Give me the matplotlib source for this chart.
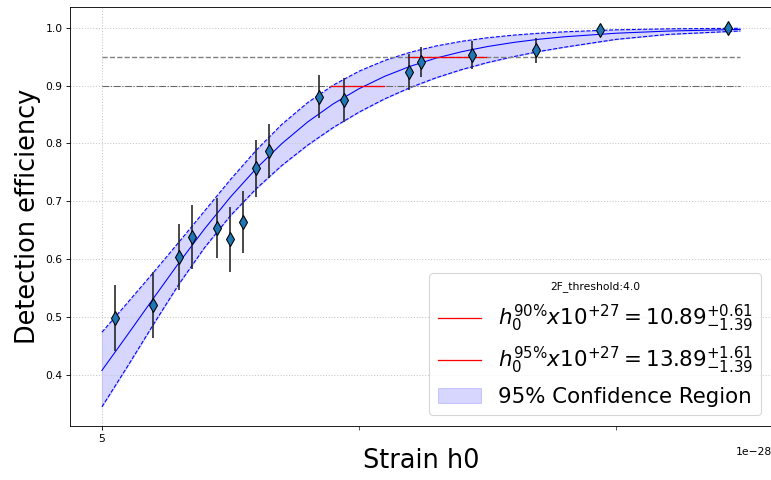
import matplotlib
matplotlib.use("Agg")
import numpy as np
import matplotlib.pyplot as plt
from matplotlib.ticker import FixedLocator, ScalarFormatter

UNIT = 1e-28  # strain values below are given in units of 1e-28

# Injected strain and measured detection efficiency (binomial errors)
h0_injected = [5.253, 5.998, 6.492, 6.745, 7.232, 7.496, 7.737, 7.990, 8.243,
               9.222, 9.714, 10.973, 11.212, 12.204, 13.449, 14.689, 17.173]
efficiency = [0.498, 0.521, 0.604, 0.638, 0.653, 0.634, 0.664, 0.757, 0.787,
              0.881, 0.875, 0.923, 0.940, 0.953, 0.961, 0.997, 1.000]
efficiency_err = [0.057, 0.057, 0.057, 0.055, 0.052, 0.056, 0.054, 0.049, 0.047,
                  0.037, 0.038, 0.031, 0.026, 0.024, 0.022, 0.004, 0.0]

# Fitted sigmoid and its 95% confidence band
fit_h0 = [5.0, 5.5, 6.0, 6.5, 7.0, 7.5, 8.0, 8.5, 9.0, 9.5, 10.0, 10.5, 11.0,
          11.5, 12.0, 12.5, 13.0, 13.5, 14.0, 15.0, 16.0, 17.41]
fit_eff = [0.4071, 0.4690, 0.5317, 0.5936, 0.6525, 0.7072, 0.7564, 0.7997,
           0.8370, 0.8685, 0.8946, 0.9161, 0.9335, 0.9476, 0.9587, 0.9676,
           0.9746, 0.9802, 0.9845, 0.9906, 0.9943, 0.9972]
fit_upper = [0.4733, 0.5245, 0.5764, 0.6295, 0.6835, 0.7375, 0.7882, 0.8330,
             0.8705, 0.9009, 0.9249, 0.9436, 0.9578, 0.9686, 0.9767, 0.9828,
             0.9873, 0.9906, 0.9931, 0.9965, 0.9982, 0.9992]
fit_lower = [0.3441, 0.4144, 0.4865, 0.5568, 0.6201, 0.6750, 0.7215, 0.7619,
             0.7969, 0.8276, 0.8541, 0.8771, 0.8968, 0.9136, 0.9278, 0.9399,
             0.9500, 0.9590, 0.9665, 0.9800, 0.9885, 0.9945]

# Upper-limit intervals at the 90% and 95% efficiency levels
level_90, span_90 = 0.90, [9.46, 10.49]
level_95, span_95 = 0.95, [10.96, 12.47]
label_90 = r"$h_0^{90\%}x10^{+27} = 10.89^{+0.61}_{-1.39}$"
label_95 = r"$h_0^{95\%}x10^{+27} = 13.89^{+1.61}_{-1.39}$"
band_label = "95% Confidence Region"

x_fit = np.array(fit_h0) * UNIT
x_inj = np.array(h0_injected) * UNIT

fig = plt.figure(figsize=(10.0, 6.226), dpi=77.1)
ax = fig.add_axes([0.0908, 0.1125, 0.9105, 0.8729])

ax.plot(x_fit, fit_eff, color="blue", lw=1)
ax.plot(x_fit, fit_upper, color="blue", ls="--", lw=1)
ax.plot(x_fit, fit_lower, color="blue", ls="--", lw=1)
band = ax.fill_between(x_fit, fit_lower, fit_upper, color="blue", alpha=0.16)

ax.hlines(level_95, x_fit[0], x_fit[-1], colors="gray", linestyles="--", lw=1.3)
ax.hlines(level_90, x_fit[0], x_fit[-1], colors="dimgray", linestyles="-.", lw=1)

line_90, = ax.plot(np.array(span_90) * UNIT, [level_90, level_90],
                   color="red", lw=1.2)
line_95, = ax.plot(np.array(span_95) * UNIT, [level_95, level_95],
                   color="red", lw=1.2)

ax.errorbar(x_inj, efficiency, yerr=efficiency_err, fmt="d", color="#1f77b4",
            mec="black", ms=9, ecolor="#222222", elinewidth=1.5, zorder=5)

ax.set_xlim(4.38 * UNIT, 18.03 * UNIT)
ax.set_ylim(0.311, 1.036)
ax.xaxis.set_major_locator(FixedLocator([5 * UNIT]))
ax.xaxis.set_minor_locator(FixedLocator([10 * UNIT, 15 * UNIT]))
ax.xaxis.set_major_formatter(ScalarFormatter())
ax.tick_params(axis="x", which="minor", length=3.5)
ax.set_yticks([0.4, 0.5, 0.6, 0.7, 0.8, 0.9, 1.0])
ax.grid(True, which="major", ls=":", color="#c8c8c8", lw=1)

ax.set_xlabel("Strain h0", fontsize=24)
ax.set_ylabel("Detection efficiency", fontsize=24)

ax.legend([line_90, line_95, band], [label_90, label_95, band_label],
          loc="lower right", fontsize=20, title="2F_threshold:4.0",
          title_fontsize=10)

fig.savefig("out.png", dpi=77.1)
